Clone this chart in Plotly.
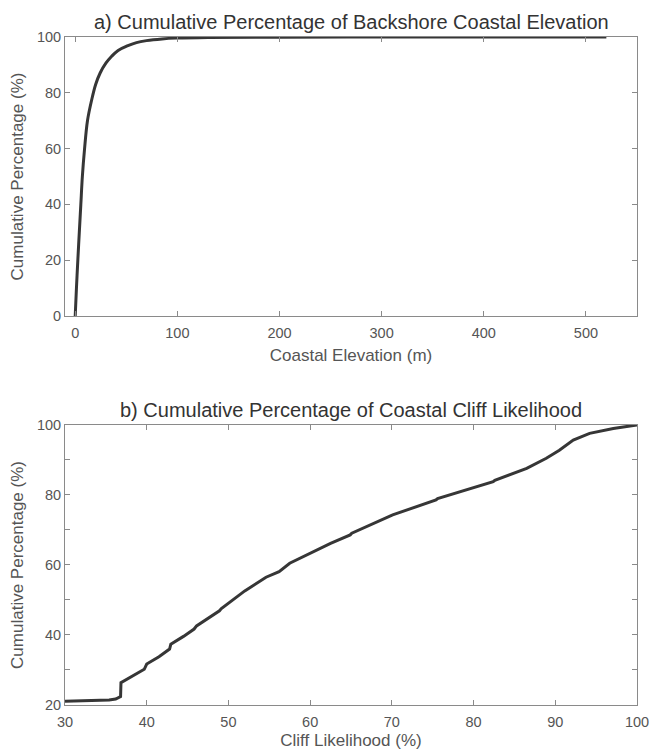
import plotly.graph_objects as go
from plotly.subplots import make_subplots

# Panel a) backshore coastal elevation CDF
elev_x = [0, 1.2, 2.6, 4, 5.5, 7, 9.1, 12, 16.2, 20, 24.4, 30, 35.7, 42, 50.3, 60, 69.8, 85, 99, 130, 200, 300, 400, 520]
elev_y = [0, 10, 20.3, 30, 40, 50, 59.7, 70, 77.6, 83, 87.1, 90.6, 93.1, 95.2, 96.7, 98, 98.7, 99.3, 99.6, 99.85, 99.95, 100, 100, 100]

# Panel b) coastal cliff likelihood CDF
cliff_x = [30, 33, 35.4, 36.2, 36.6, 36.8, 36.85, 37.5, 38.5, 39.7, 40.0, 41.5, 42.8, 42.95, 44.5, 45.8, 46.1,
           48.9, 49.1, 51.7, 52.0, 54.6, 56.2, 57.5, 59.9, 62.5, 64.9, 65.1, 70.1, 75.4, 75.6, 79.9, 82.4, 82.6,
           86.5, 88.9, 90.5, 92.2, 94.2, 97.1, 100]
cliff_y = [21.1, 21.2, 21.4, 21.7, 22.1, 22.4, 26.4, 27.3, 28.6, 30.2, 31.7, 33.8, 36.0, 37.4, 39.6, 41.7, 42.6,
           46.9, 47.5, 51.9, 52.6, 56.5, 58.1, 60.5, 63.3, 66.2, 68.6, 69.1, 74.3, 78.6, 79.0, 81.9, 83.8, 84.2,
           87.6, 90.5, 92.8, 95.7, 97.6, 99.0, 100]

title_a = "a) Cumulative Percentage of Backshore Coastal Elevation"
title_b = "b) Cumulative Percentage of Coastal Cliff Likelihood"
xlabel_a = "Coastal Elevation (m)"
xlabel_b = "Cliff Likelihood (%)"
ylabel = "Cumulative Percentage (%)"

FONT = "Liberation Sans, Arial, Helvetica, sans-serif"
AXC = "#8a8a8a"
TXC = "#555555"
LINEC = "#363636"

fig = make_subplots(rows=2, cols=1)
fig.add_trace(go.Scatter(x=elev_x, y=elev_y, mode="lines", line=dict(color=LINEC, width=3),
                         showlegend=False, line_shape="spline"), row=1, col=1)
fig.add_trace(go.Scatter(x=cliff_x, y=cliff_y, mode="lines", line=dict(color=LINEC, width=3),
                         showlegend=False), row=2, col=1)

common = dict(showline=True, linecolor=AXC, linewidth=1, mirror="ticks", ticks="inside",
              ticklen=5, tickcolor=AXC, showgrid=False, zeroline=False, automargin=False,
              tickfont=dict(family=FONT, size=14.5, color=TXC),
              title_font=dict(family=FONT, size=17, color=TXC))

TOP_A = 1.0
BOT_A = 0.5823
TOP_B = 0.4192

# page body has an 8px margin, so the figure is 8px smaller and margins shifted
fig.update_layout(
    width=656, height=743,
    margin=dict(l=57, r=27, t=29, b=46),
    paper_bgcolor="white", plot_bgcolor="white",
    font=dict(family=FONT, color=TXC),
    xaxis=dict(domain=[0, 1], range=[-10, 550], tickvals=[0, 100, 200, 300, 400, 500],
               ticklabelstandoff=4, title=dict(text=xlabel_a, standoff=8), **common),
    yaxis=dict(domain=[BOT_A, TOP_A], range=[0, 100], tickvals=[0, 20, 40, 60, 80, 100],
               title=dict(text=ylabel, standoff=8), **common),
    xaxis2=dict(domain=[0, 1], range=[30, 100], tickvals=[30, 40, 50, 60, 70, 80, 90, 100],
                ticklabelstandoff=4, title=dict(text=xlabel_b, standoff=4), **common),
    yaxis2=dict(domain=[0, TOP_B], range=[20, 100], tickvals=[20, 40, 60, 80, 100],
                minor=dict(ticks="inside", ticklen=5, tickcolor=AXC, dtick=10, tick0=0),
                title=dict(text=ylabel, standoff=8), **common),
    annotations=[
        dict(text=title_a, x=0.5, y=TOP_A, xref="paper", yref="paper", xanchor="center", yanchor="bottom",
             yshift=2, showarrow=False, font=dict(family=FONT, size=20, color="#333333")),
        dict(text=title_b, x=0.5, y=TOP_B, xref="paper", yref="paper", xanchor="center", yanchor="bottom",
             yshift=2, showarrow=False, font=dict(family=FONT, size=20, color="#333333")),
    ],
)

fig.write_html("out.html")
